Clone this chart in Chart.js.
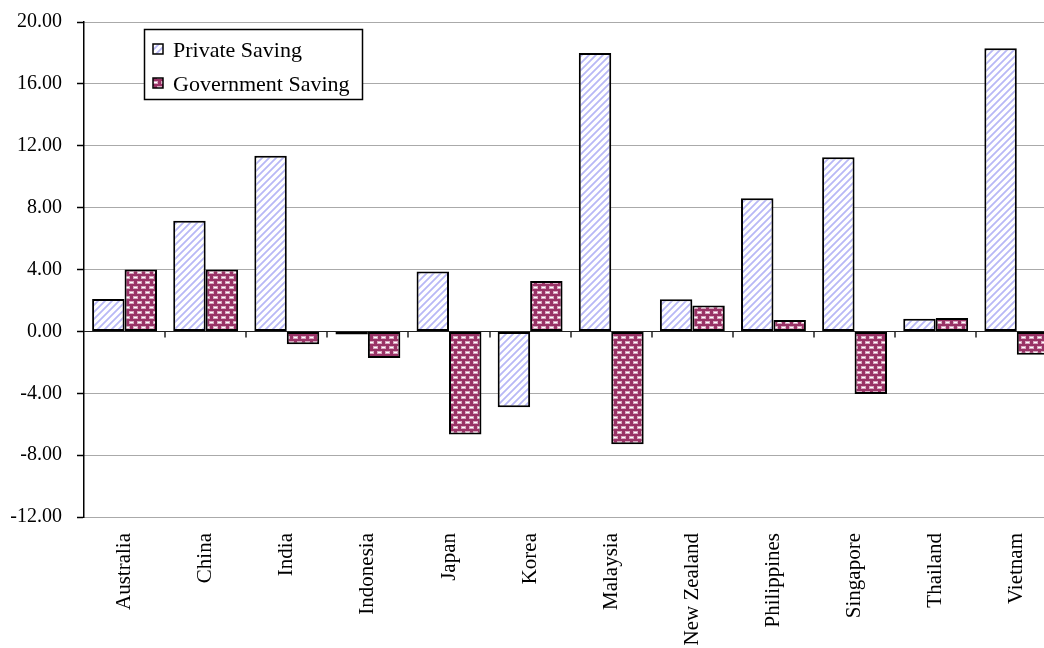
<!DOCTYPE html>
<html>
<head>
<meta charset="utf-8">
<script src="https://cdn.jsdelivr.net/npm/chart.js@4"></script>
<style>
  html, body { margin: 0; padding: 0; background: #fff; overflow: hidden; width: 1044px; height: 648px; }
  #wrap { position: absolute; left: 0; top: 0; width: 1058px; height: 648px; }
</style>
</head>
<body>
<div id="wrap"><canvas id="c"></canvas></div>
<script>
const categories = ["Australia","China","India","Indonesia","Japan","Korea","Malaysia","New Zealand","Philippines","Singapore","Thailand","Vietnam"];
const privateSaving = [2.10, 7.15, 11.35, -0.20, 3.87, -4.90, 18.00, 2.07, 8.60, 11.25, 0.82, 18.30];
const governmentSaving = [4.00, 4.00, -0.83, -1.72, -6.67, 3.26, -7.30, 1.68, 0.73, -4.05, 0.86, -1.51];
const seriesNames = ["Private Saving", "Government Saving"];
const yMin = -12, yMax = 20, yStep = 4;

function makeStripe() {
  const c = document.createElement('canvas');
  c.width = 7; c.height = 7;
  const g = c.getContext('2d');
  g.fillStyle = '#ffffff'; g.fillRect(0, 0, 7, 7);
  g.strokeStyle = '#b8b8f6'; g.lineWidth = 1.8;
  g.beginPath();
  g.moveTo(-1, 8); g.lineTo(8, -1);
  g.moveTo(-5, 5); g.lineTo(5, -5);
  g.moveTo(2, 12); g.lineTo(12, 2);
  g.stroke();
  return g.createPattern(c, 'repeat');
}
function makeBrick() {
  const c = document.createElement('canvas');
  c.width = 8; c.height = 10;
  const g = c.getContext('2d');
  g.fillStyle = '#993366'; g.fillRect(0, 0, 8, 10);
  g.fillStyle = '#d9a8c0';
  g.fillRect(1, 1, 5, 3);
  g.fillRect(5, 6, 5, 3);
  g.fillRect(-3, 6, 5, 3);
  g.fillStyle = '#ffffff';
  g.fillRect(2, 2, 3, 1);
  g.fillRect(6, 7, 3, 1);
  g.fillRect(-2, 7, 3, 1);
  return g.createPattern(c, 'repeat');
}
const stripe = makeStripe();
const brick = makeBrick();

const extras = {
  id: 'extras',
  beforeDatasetsDraw(chart) {
    const ctx = chart.ctx, y = chart.scales.y, x = chart.scales.x, a = chart.chartArea;
    const y0 = Math.round(y.getPixelForValue(0)) + 0.5;
    ctx.save();
    ctx.strokeStyle = '#222'; ctx.lineWidth = 1;
    ctx.beginPath(); ctx.moveTo(a.left, y0); ctx.lineTo(a.right, y0); ctx.stroke();
    ctx.lineWidth = 1.5;
    for (let i = 1; i < categories.length; i++) {
      const bx = Math.round((x.getPixelForValue(i - 1) + x.getPixelForValue(i)) / 2);
      ctx.beginPath(); ctx.moveTo(bx, y0); ctx.lineTo(bx, y0 + 6); ctx.stroke();
    }
    ctx.restore();
  },
  afterDraw(chart) {
    const ctx = chart.ctx;
    ctx.save();
    const bx = 144.5, by = 29.5, bw = 218, bh = 70;
    ctx.fillStyle = '#fff'; ctx.fillRect(bx, by, bw, bh);
    ctx.strokeStyle = '#000'; ctx.lineWidth = 1.5; ctx.strokeRect(bx, by, bw, bh);
    ctx.font = '22px "Liberation Serif"';
    ctx.textBaseline = 'alphabetic';
    ctx.textAlign = 'left';
    const rows = [57, 91];
    chart.data.datasets.forEach((ds, i) => {
      const my = rows[i] - 13;
      ctx.fillStyle = ds.backgroundColor;
      ctx.fillRect(153, my, 10, 10);
      ctx.strokeStyle = '#000'; ctx.lineWidth = 1.5;
      ctx.strokeRect(153, my, 10, 10);
      ctx.fillStyle = '#000';
      ctx.fillText(ds.label, 173, rows[i]);
    });
    ctx.restore();
  }
};

new Chart(document.getElementById('c'), {
  type: 'bar',
  data: {
    labels: categories,
    datasets: [
      { label: seriesNames[0], data: privateSaving, backgroundColor: stripe, borderColor: '#000', borderWidth: 2, borderSkipped: false },
      { label: seriesNames[1], data: governmentSaving, backgroundColor: brick, borderColor: '#000', borderWidth: 2, borderSkipped: false }
    ]
  },
  options: {
    responsive: true,
    maintainAspectRatio: false,
    animation: false,
    layout: { padding: { top: 22, right: 0, bottom: 0, left: 0 } },
    datasets: { bar: { categoryPercentage: 0.8, barPercentage: 1.0 } },
    plugins: { legend: { display: false }, tooltip: { enabled: false } },
    scales: {
      x: {
        grid: { display: false, drawTicks: false },
        border: { display: false },
        ticks: {
          color: '#000',
          font: { family: 'Liberation Serif', size: 21 },
          maxRotation: 90, minRotation: 90, padding: 16, autoSkip: false
        },
        afterFit(s) { s.height = 131; s.paddingTop = 0; s.paddingBottom = 0; }
      },
      y: {
        min: yMin, max: yMax,
        grid: { color: '#555', lineWidth: 1, tickLength: 7, tickColor: '#000', tickWidth: 1.5, tickBorderDash: [] },
        border: { display: true, color: '#000', width: 1.5, dash: [1, 1] },
        ticks: {
          stepSize: yStep, color: '#000', padding: 15,
          font: { family: 'Liberation Serif', size: 20 },
          callback: v => Number(v).toFixed(2)
        },
        afterFit(s) { s.width = 84; s.paddingTop = 0; s.paddingBottom = 0; }
      }
    }
  },
  plugins: [extras]
});
</script>
</body>
</html>
